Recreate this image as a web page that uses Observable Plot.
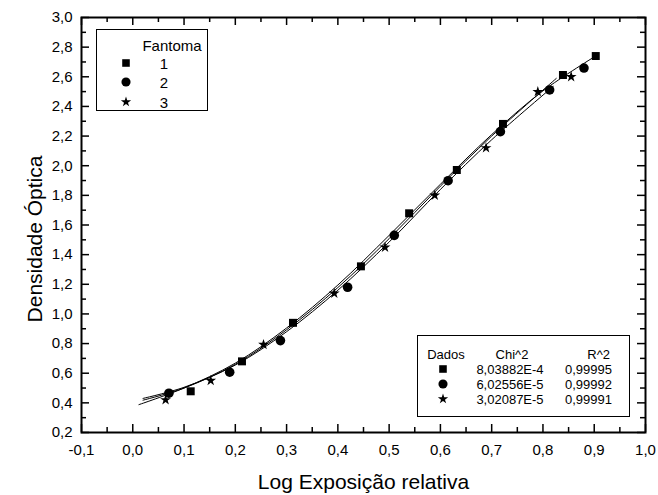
<!DOCTYPE html>
<html>
<head>
<meta charset="utf-8">
<script src="https://cdn.jsdelivr.net/npm/d3@7"></script>
<script src="https://cdn.jsdelivr.net/npm/@observablehq/plot@0.6"></script>
<style>
  body { margin: 0; background: #fff; }
  #wrap { position: relative; width: 658px; height: 495px; font-family: Arial, "Liberation Sans", sans-serif; }
  .legend { position: absolute; border: 1px solid #000; background: #fff; box-sizing: border-box; color: #000; }
  .t { position: absolute; white-space: nowrap; line-height: 1; color: #000; }
  .c { transform: translate(-50%, -50%); }
  .r { transform: translate(0, -50%); }
  .sym { position: absolute; transform: translate(-50%, -50%); line-height: 0; }
</style>
</head>
<body>
<div id="wrap"></div>
<script>
// ---- data ----
const series1X = [0.113, 0.213, 0.3125, 0.445, 0.539, 0.632, 0.722, 0.839, 0.903];
const series1Y = [0.478, 0.680, 0.940, 1.321, 1.679, 1.971, 2.282, 2.612, 2.740];
const series2X = [0.0705, 0.189, 0.288, 0.419, 0.510, 0.615, 0.717, 0.813, 0.880];
const series2Y = [0.465, 0.607, 0.820, 1.180, 1.530, 1.899, 2.230, 2.511, 2.659];
const series3X = [0.064, 0.152, 0.255, 0.393, 0.492, 0.589, 0.689, 0.790, 0.855];
const series3Y = [0.420, 0.550, 0.793, 1.139, 1.449, 1.800, 2.120, 2.499, 2.600];

const fit1X = [0.012, 0.1, 0.2, 0.3, 0.4, 0.5, 0.6, 0.7, 0.8, 0.905];
const fit1Y = [0.388, 0.500, 0.668, 0.905, 1.195, 1.530, 1.875, 2.210, 2.505, 2.745];
const fit2X = [0.02, 0.1, 0.2, 0.3, 0.4, 0.5, 0.6, 0.7, 0.82];
const fit2Y = [0.430, 0.505, 0.655, 0.880, 1.160, 1.485, 1.840, 2.175, 2.535];
const fit3X = [0.02, 0.1, 0.2, 0.3, 0.4, 0.5, 0.6, 0.7, 0.826];
const fit3Y = [0.418, 0.500, 0.660, 0.893, 1.178, 1.508, 1.862, 2.200, 2.589];

const xTicks = [-0.1, 0.0, 0.1, 0.2, 0.3, 0.4, 0.5, 0.6, 0.7, 0.8, 0.9, 1.0];
const xTickLabels = ["-0,1", "0,0", "0,1", "0,2", "0,3", "0,4", "0,5", "0,6", "0,7", "0,8", "0,9", "1,0"];
const xMinorTicks = [-0.05, 0.05, 0.15, 0.25, 0.35, 0.45, 0.55, 0.65, 0.75, 0.85, 0.95];
const yTicks = [0.2, 0.4, 0.6, 0.8, 1.0, 1.2, 1.4, 1.6, 1.8, 2.0, 2.2, 2.4, 2.6, 2.8, 3.0];
const yTickLabels = ["0,2", "0,4", "0,6", "0,8", "1,0", "1,2", "1,4", "1,6", "1,8", "2,0", "2,2", "2,4", "2,6", "2,8", "3,0"];
const yMinorTicks = [0.3, 0.5, 0.7, 0.9, 1.1, 1.3, 1.5, 1.7, 1.9, 2.1, 2.3, 2.5, 2.7, 2.9];

const seriesNames = ["1", "2", "3"];
const seriesSymbols = ["square", "circle", "star"];
const chiValues = ["8,03882E-4", "6,02556E-5", "3,02087E-5"];
const r2Values = ["0,99995", "0,99992", "0,99991"];

const xLabel = "Log Exposição relativa";
const yLabel = "Densidade Óptica";
const legendTitle = "Fantoma";
const statsHeaders = ["Dados", "Chi^2", "R^2"];

// ---- tables built from arrays ----
const pts = [
  ...series1X.map((x, i) => ({x, y: series1Y[i], s: 0})),
  ...series2X.map((x, i) => ({x, y: series2Y[i], s: 1})),
  ...series3X.map((x, i) => ({x, y: series3Y[i], s: 2}))
];
const fits = [
  ...fit1X.map((x, i) => ({x, y: fit1Y[i], s: 0})),
  ...fit2X.map((x, i) => ({x, y: fit2Y[i], s: 1})),
  ...fit3X.map((x, i) => ({x, y: fit3Y[i], s: 2}))
];

const W = 658, H = 495;
const mL = 81, mR = 13, mT = 17, mB = 63;
const fw = W - mL - mR, fh = H - mT - mB;
const major = 8, minor = 5;
const symR = [4.5, 4.8, 3.4];

const chart = Plot.plot({
  width: W, height: H,
  marginLeft: mL, marginRight: mR, marginTop: mT, marginBottom: mB,
  style: {fontFamily: 'Arial, "Liberation Sans", sans-serif', background: "#fff", color: "#000"},
  x: {domain: [-0.1, 1.0]},
  y: {domain: [0.2, 3.0]},
  symbol: {type: "identity"},
  r: {type: "identity"},
  marks: [
    Plot.axisX({ticks: xTicks, tickSize: 0, tickPadding: 12, fontSize: 15, label: null,
      tickFormat: d => xTickLabels[xTicks.indexOf(d)]}),
    Plot.axisY({ticks: yTicks, tickSize: 0, tickPadding: 9, fontSize: 15, label: null,
      tickFormat: d => yTickLabels[yTicks.indexOf(d)]}),
    // inward ticks, bottom/top
    Plot.tickX(xTicks, {x: d => d, insetTop: fh - major, stroke: "#000", strokeWidth: 1.5}),
    Plot.tickX(xMinorTicks, {x: d => d, insetTop: fh - minor, stroke: "#000", strokeWidth: 1.5}),
    Plot.tickX(xTicks, {x: d => d, insetBottom: fh - major, stroke: "#000", strokeWidth: 1.5}),
    Plot.tickX(xMinorTicks, {x: d => d, insetBottom: fh - minor, stroke: "#000", strokeWidth: 1.5}),
    // inward ticks, left/right
    Plot.tickY(yTicks, {y: d => d, insetRight: fw - major, stroke: "#000", strokeWidth: 1.5}),
    Plot.tickY(yMinorTicks, {y: d => d, insetRight: fw - minor, stroke: "#000", strokeWidth: 1.5}),
    Plot.tickY(yTicks, {y: d => d, insetLeft: fw - major, stroke: "#000", strokeWidth: 1.5}),
    Plot.tickY(yMinorTicks, {y: d => d, insetLeft: fw - minor, stroke: "#000", strokeWidth: 1.5}),
    Plot.frame({stroke: "#000", strokeWidth: 2}),
    // fitted curves
    Plot.line(fits, {x: "x", y: "y", z: "s", curve: "catmull-rom", stroke: "#000", strokeWidth: 1}),
    // data points
    Plot.dot(pts, {x: "x", y: "y", symbol: d => seriesSymbols[d.s], r: d => symR[d.s], fill: "#000", stroke: "none"}),
    // axis titles
    Plot.text([xLabel], {text: d => d, frameAnchor: "bottom", lineAnchor: "middle", textAnchor: "middle", dy: 50, fontSize: 21}),
    Plot.text([yLabel], {text: d => d, frameAnchor: "left", lineAnchor: "middle", textAnchor: "middle", rotate: -90, dx: -46, dy: 14, fontSize: 21})
  ]
});

const wrap = document.getElementById("wrap");
wrap.appendChild(chart);

function symSvg(type, r) {
  const size = Math.PI * r * r;
  const p = d3.symbol(d3["symbol" + type[0].toUpperCase() + type.slice(1)], size)();
  const s = 16;
  return `<svg width="${s}" height="${s}" viewBox="${-s/2} ${-s/2} ${s} ${s}"><path d="${p}" fill="#000"/></svg>`;
}

// legend 1 (Fantoma)
const lg1 = document.createElement("div");
lg1.className = "legend";
Object.assign(lg1.style, {left: "96px", top: "29px", width: "112px", height: "82px", fontSize: "15px"});
let h1 = `<span class="t c" style="left:75px;top:15px">${legendTitle}</span>`;
const rowY1 = [33, 52, 71.5];
seriesNames.forEach((n, i) => {
  h1 += `<span class="sym" style="left:29px;top:${rowY1[i]}px">${symSvg(seriesSymbols[i], symR[i] * 0.95)}</span>`;
  h1 += `<span class="t c" style="left:67px;top:${rowY1[i]}px">${n}</span>`;
});
lg1.innerHTML = h1;
wrap.appendChild(lg1);

// legend 2 (statistics)
const lg2 = document.createElement("div");
lg2.className = "legend";
Object.assign(lg2.style, {left: "417px", top: "335px", width: "213px", height: "82px", fontSize: "13px"});
let h2 = `<span class="t c" style="left:28px;top:18px">${statsHeaders[0]}</span>`;
h2 += `<span class="t c" style="left:94px;top:18px">${statsHeaders[1]}</span>`;
h2 += `<span class="t r" style="right:19px;top:18px">${statsHeaders[2]}</span>`;
const rowY2 = [33, 48, 62.5];
seriesNames.forEach((n, i) => {
  h2 += `<span class="sym" style="left:25px;top:${rowY2[i]}px">${symSvg(seriesSymbols[i], symR[i] * 0.95)}</span>`;
  h2 += `<span class="t c" style="left:92px;top:${rowY2[i]}px">${chiValues[i]}</span>`;
  h2 += `<span class="t r" style="right:17px;top:${rowY2[i]}px">${r2Values[i]}</span>`;
});
lg2.innerHTML = h2;
wrap.appendChild(lg2);
</script>
</body>
</html>
